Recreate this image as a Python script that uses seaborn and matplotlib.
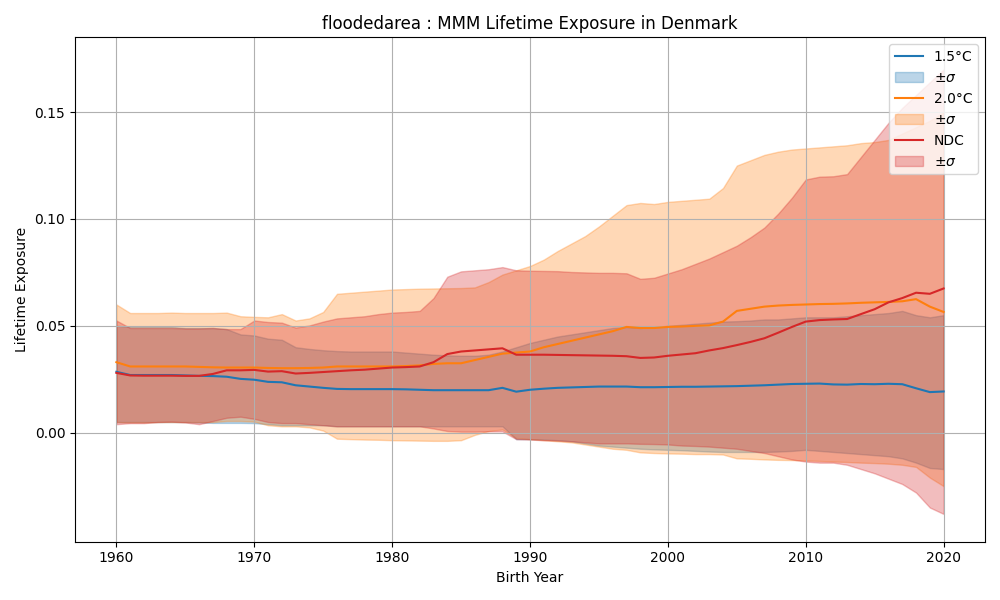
import numpy as np
import pandas as pd
import matplotlib
matplotlib.use("Agg")
import matplotlib.pyplot as plt
import seaborn as sns

years = list(range(1960, 2021))

# 1.5C
m15 = [0.0285, 0.027, 0.027, 0.027, 0.027, 0.0268, 0.0266, 0.0265, 0.0262, 0.0252,
       0.0248, 0.0238, 0.0236, 0.0222, 0.0216, 0.021, 0.0205, 0.0204, 0.0204, 0.0204,
       0.0204, 0.0203, 0.0201, 0.0199, 0.0199, 0.0199, 0.0199, 0.0199, 0.021, 0.0192,
       0.0201, 0.0206, 0.021, 0.0212, 0.0214, 0.0216, 0.0216, 0.0216, 0.0213, 0.0213,
       0.0214, 0.0215, 0.0215, 0.0216, 0.0217, 0.0218, 0.022, 0.0222, 0.0225, 0.0228,
       0.0229, 0.023, 0.0226, 0.0225, 0.0228, 0.0227, 0.0229, 0.0227, 0.0208, 0.019,
       0.0193]
hi15 = [0.050, 0.0495, 0.0495, 0.0495, 0.0495, 0.049, 0.049, 0.049, 0.0485, 0.046,
        0.0455, 0.044, 0.0435, 0.040, 0.0392, 0.0386, 0.0382, 0.038, 0.038, 0.038,
        0.038, 0.0375, 0.037, 0.0365, 0.0362, 0.036, 0.036, 0.0365, 0.038, 0.040,
        0.042, 0.0435, 0.045, 0.046, 0.047, 0.048, 0.049, 0.0495, 0.049, 0.0495,
        0.050, 0.0505, 0.051, 0.0515, 0.052, 0.0522, 0.0525, 0.053, 0.053, 0.0535,
        0.054, 0.054, 0.054, 0.0545, 0.055, 0.0555, 0.056, 0.057, 0.055, 0.054,
        0.055]
lo15 = [0.005, 0.005, 0.005, 0.005, 0.005, 0.005, 0.0048, 0.0046, 0.0046, 0.0046,
        0.0045, 0.004, 0.0035, 0.0035, 0.0035, 0.0035, 0.003, 0.003, 0.003, 0.003,
        0.003, 0.003, 0.003, 0.003, 0.003, 0.003, 0.003, 0.003, 0.003, -0.003,
        -0.003, -0.0032, -0.0035, -0.004, -0.005, -0.006, -0.0065, -0.007, -0.0075, -0.0078,
        -0.008, -0.0082, -0.0085, -0.0088, -0.009, -0.009, -0.009, -0.009, -0.0088, -0.0085,
        -0.008, -0.0085, -0.009, -0.0095, -0.010, -0.0105, -0.011, -0.012, -0.014, -0.0165,
        -0.017]

# 2.0C
m20 = [0.033, 0.031, 0.031, 0.031, 0.031, 0.031, 0.0308, 0.0306, 0.0305, 0.0305,
       0.0305, 0.0303, 0.0302, 0.0302, 0.0303, 0.0305, 0.031, 0.031, 0.031, 0.031,
       0.031, 0.0312, 0.0315, 0.0322, 0.0325, 0.0325, 0.034, 0.0355, 0.037, 0.0375,
       0.038, 0.040, 0.0415, 0.043, 0.0445, 0.046, 0.0475, 0.0495, 0.049, 0.049,
       0.0495, 0.0497, 0.050, 0.0502, 0.052, 0.057, 0.058, 0.059, 0.0595, 0.0598,
       0.060, 0.0602, 0.0603, 0.0605, 0.0608, 0.061, 0.0612, 0.0615, 0.0625, 0.059,
       0.0565]
hi20 = [0.060, 0.056, 0.056, 0.056, 0.0562, 0.056, 0.056, 0.056, 0.0562, 0.0545,
        0.0542, 0.054, 0.0555, 0.0525, 0.0535, 0.0565, 0.065, 0.0655, 0.066, 0.0665,
        0.067, 0.0672, 0.0674, 0.0675, 0.0676, 0.0677, 0.068, 0.0705, 0.074, 0.076,
        0.078, 0.081, 0.085, 0.0885, 0.092, 0.0965, 0.1015, 0.1065, 0.1075, 0.107,
        0.108, 0.1085, 0.109, 0.1095, 0.1145, 0.125, 0.1275, 0.130, 0.1315, 0.1325,
        0.133, 0.1335, 0.134, 0.1345, 0.1355, 0.136, 0.137, 0.140, 0.143, 0.146,
        0.150]
lo20 = [0.005, 0.0048, 0.0048, 0.005, 0.005, 0.005, 0.005, 0.005, 0.0055, 0.0055,
        0.0052, 0.0035, 0.003, 0.003, 0.0025, 0.001, -0.0028, -0.003, -0.0032, -0.0033,
        -0.0035, -0.0036, -0.0037, -0.0038, -0.0038, -0.0035, -0.001, 0.0008, 0.0015, -0.0025,
        -0.003, -0.0035, -0.004, -0.0045, -0.0055, -0.0065, -0.0075, -0.008, -0.0092, -0.0095,
        -0.0097, -0.0098, -0.010, -0.010, -0.0102, -0.012, -0.0122, -0.0125, -0.0127, -0.0128,
        -0.013, -0.0132, -0.0135, -0.0137, -0.014, -0.0142, -0.0145, -0.015, -0.016, -0.021,
        -0.025]

# NDC
mndc = [0.028, 0.0268, 0.0267, 0.0267, 0.0267, 0.0266, 0.0266, 0.0275, 0.0292, 0.0292,
        0.0294, 0.0286, 0.0288, 0.0277, 0.028, 0.0284, 0.0288, 0.0292, 0.0295, 0.030,
        0.0305, 0.0307, 0.031, 0.033, 0.0368, 0.038, 0.0385, 0.039, 0.0395, 0.0365,
        0.0365, 0.0365, 0.0364, 0.0363, 0.0362, 0.0361, 0.036, 0.0358, 0.035, 0.0352,
        0.036, 0.0366, 0.0372, 0.0385, 0.0396, 0.041, 0.0425, 0.0442, 0.0468, 0.0495,
        0.052, 0.0527, 0.053, 0.0532, 0.0555, 0.0578, 0.061, 0.063, 0.0655, 0.065,
        0.0675]
hindc = [0.0525, 0.049, 0.049, 0.049, 0.049, 0.0488, 0.0488, 0.049, 0.0485, 0.0485,
         0.0525, 0.0518, 0.0515, 0.0492, 0.0502, 0.052, 0.0535, 0.054, 0.0545, 0.0555,
         0.0562, 0.0565, 0.057, 0.063, 0.073, 0.0755, 0.076, 0.0765, 0.0775, 0.076,
         0.0758, 0.0757, 0.0756, 0.0752, 0.075, 0.0748, 0.0748, 0.0746, 0.072, 0.0725,
         0.0745, 0.0765, 0.079, 0.0815, 0.0845, 0.0875, 0.0915, 0.096, 0.1025, 0.110,
         0.1185, 0.1198, 0.12, 0.121, 0.129, 0.137, 0.145, 0.152, 0.158, 0.164,
         0.170]
londc = [0.004, 0.0045, 0.0045, 0.005, 0.0052, 0.0048, 0.004, 0.0055, 0.007, 0.0075,
         0.0065, 0.005, 0.0045, 0.0045, 0.004, 0.0035, 0.003, 0.003, 0.003, 0.003,
         0.003, 0.003, 0.003, 0.002, 0.0008, 0.0005, 0.0005, 0.0006, 0.0006, -0.003,
         -0.0032, -0.0035, -0.0037, -0.004, -0.0045, -0.005, -0.005, -0.005, -0.0052, -0.0053,
         -0.0055, -0.006, -0.0062, -0.0065, -0.007, -0.0075, -0.0085, -0.0095, -0.011, -0.0125,
         -0.0135, -0.014, -0.014, -0.015, -0.017, -0.019, -0.0215, -0.024, -0.028, -0.035,
         -0.038]

series = [("1.5°C", m15, lo15, hi15, "tab:blue"),
          ("2.0°C", m20, lo20, hi20, "tab:orange"),
          ("NDC", mndc, londc, hindc, "tab:red")]

fig, ax = plt.subplots(figsize=(10, 6), dpi=100)
for name, m, lo, hi, col in series:
    df = pd.DataFrame({"year": years, "val": m})
    sns.lineplot(data=df, x="year", y="val", color=col, label=name, ax=ax)
    ax.fill_between(years, lo, hi, color=col, alpha=0.3, label=r"$\pm\sigma$")

ax.set_title("floodedarea : MMM Lifetime Exposure in Denmark")
ax.set_xlabel("Birth Year")
ax.set_ylabel("Lifetime Exposure")
ax.set_ylim(-0.051, 0.185)
ax.set_yticks([0.0, 0.05, 0.10, 0.15])
ax.grid(True)
ax.legend(loc="upper right")
fig.tight_layout()
fig.savefig("out.png")
